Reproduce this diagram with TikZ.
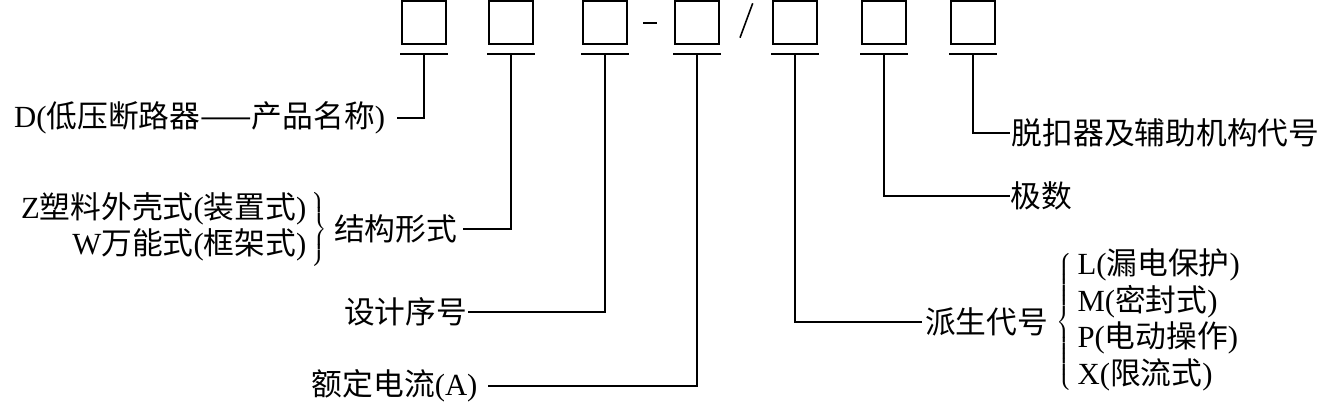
\documentclass[tikz,border=0pt]{standalone}
\usepackage{fontspec}
\setmainfont{Liberation Serif}
\newfontfamily\zh{Noto Sans CJK SC}
\usetikzlibrary{positioning}

\begin{document}
\begin{tikzpicture}[x=0.02cm,y=-0.02cm,line width=0.9pt,
  codebox/.style={draw,minimum width=0.88cm,minimum height=0.86cm,inner sep=0pt},
  lbl/.style={inner sep=0pt,font=\fontsize{17.5}{20}\selectfont}]
\useasboundingbox (0,0) rectangle (1324,402);
% code boxes, underline and stem point
\foreach \n/\x in {1/424,2/511,3/605,4/697,5/795,6/884,7/973}{
  \node[codebox] (b\n) at (\x,22.5) {};
  \draw (\x-24,54) -- (\x+24,54);
  \coordinate (u\n) at (\x,54);
}
\draw (643,23) -- (657,23);
\draw (740,37.7) -- (752.7,3.3);

% left labels
\node[lbl,anchor=east,outer xsep=6.8pt] (pm) at (397,118) {D({\zh 低压断路器——产品名称})};
\node[lbl,anchor=east,outer xsep=3.4pt] (jg) at (463,229) {\zh 结构形式};
\node[lbl,left=0pt of jg] (zw) {$\left.\begin{tabular}{@{}r@{\hspace{3pt}}}Z{\zh 塑料外壳式}({\zh 装置式})\\W{\zh 万能式}({\zh 框架式})\end{tabular}\right\}$};
\node[lbl,anchor=east] (sj) at (468,312) {\zh 设计序号};
\node[lbl,anchor=east,outer xsep=6pt] (ed) at (488,386) {{\zh 额定电流}(A)};

% right labels
\node[lbl,anchor=west,outer xsep=1.7pt] (ps) at (922,322) {\zh 派生代号};
\node[lbl,right=2.8pt of ps] (lmpx) {$\left\{\begin{tabular}{@{\hspace{3pt}}l@{}}L({\zh 漏电保护})\\M({\zh 密封式})\\P({\zh 电动操作})\\X({\zh 限流式})\end{tabular}\right.$};
\node[lbl,anchor=west] (js) at (1010,196) {\zh 极数};
\node[lbl,anchor=west,outer xsep=1pt] (tk) at (1010,133) {\zh 脱扣器及辅助机构代号};

% connectors
\draw (u1) |- (pm);
\draw (u2) |- (jg);
\draw (u3) |- (sj);
\draw (u4) |- (ed);
\draw (u5) |- (ps);
\draw (u6) |- (js);
\draw (u7) |- (tk);
\end{tikzpicture}
\end{document}
